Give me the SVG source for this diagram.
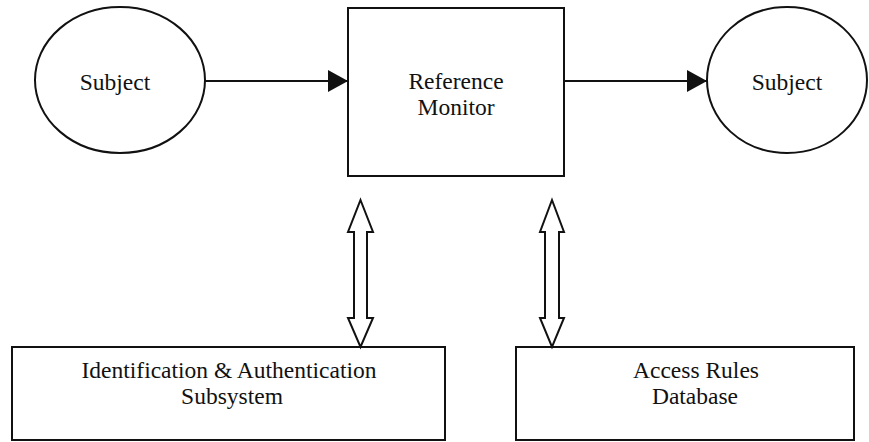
<svg xmlns="http://www.w3.org/2000/svg" width="869" height="442" viewBox="0 0 869 442">
<defs>
<style>
.shape{fill:#fff;stroke:#111;stroke-width:2}
.line{fill:none;stroke:#111;stroke-width:2}
.dbl{fill:#fff;stroke:#111;stroke-width:2;stroke-linejoin:miter}
.lbl{font-family:'Liberation Serif','Times New Roman',Times,'DejaVu Serif',serif;font-size:23.5px;fill:#111;text-anchor:middle}
</style>
<marker id="head" viewBox="0 0 20 22" refX="20" refY="11" markerWidth="20" markerHeight="22" markerUnits="userSpaceOnUse" orient="auto">
<path d="M0,0 L20,11 L0,22 Z" fill="#111"/>
</marker>
</defs>
<rect width="869" height="442" fill="#fff"/>
<g id="subject-left">
<ellipse class="shape" cx="120" cy="80" rx="85" ry="73"/>
<text class="lbl" font-family="Liberation Serif, serif" x="115" y="90">Subject</text>
</g>
<g id="reference-monitor">
<rect class="shape" x="348" y="8" width="216" height="168"/>
<text class="lbl" font-family="Liberation Serif, serif" x="456" y="89">Reference</text>
<text class="lbl" font-family="Liberation Serif, serif" x="456" y="115">Monitor</text>
</g>
<g id="subject-right">
<ellipse class="shape" cx="787" cy="80" rx="80" ry="73"/>
<text class="lbl" font-family="Liberation Serif, serif" x="787" y="90">Subject</text>
</g>
<g id="ident-auth">
<rect class="shape" x="12" y="347" width="433" height="93"/>
<text class="lbl" font-family="Liberation Serif, serif" x="229" y="378">Identification &amp; Authentication</text>
<text class="lbl" font-family="Liberation Serif, serif" x="232" y="404">Subsystem</text>
</g>
<g id="access-rules">
<rect class="shape" x="516" y="347" width="338" height="93"/>
<text class="lbl" font-family="Liberation Serif, serif" x="696" y="378">Access Rules</text>
<text class="lbl" font-family="Liberation Serif, serif" x="695" y="404">Database</text>
</g>
<g id="connectors">
<line class="line" x1="205" y1="81" x2="348" y2="81" marker-end="url(#head)"/>
<line class="line" x1="564" y1="81" x2="707" y2="81" marker-end="url(#head)"/>
<polygon class="dbl" points="360.5,200 373,232 367,232 367,318 373,318 360.5,347 348,318 354,318 354,232 348,232"/>
<polygon class="dbl" points="552,200 564,232 559,232 559,318 564,318 552,347 540,318 545,318 545,232 540,232"/>
</g>
</svg>
